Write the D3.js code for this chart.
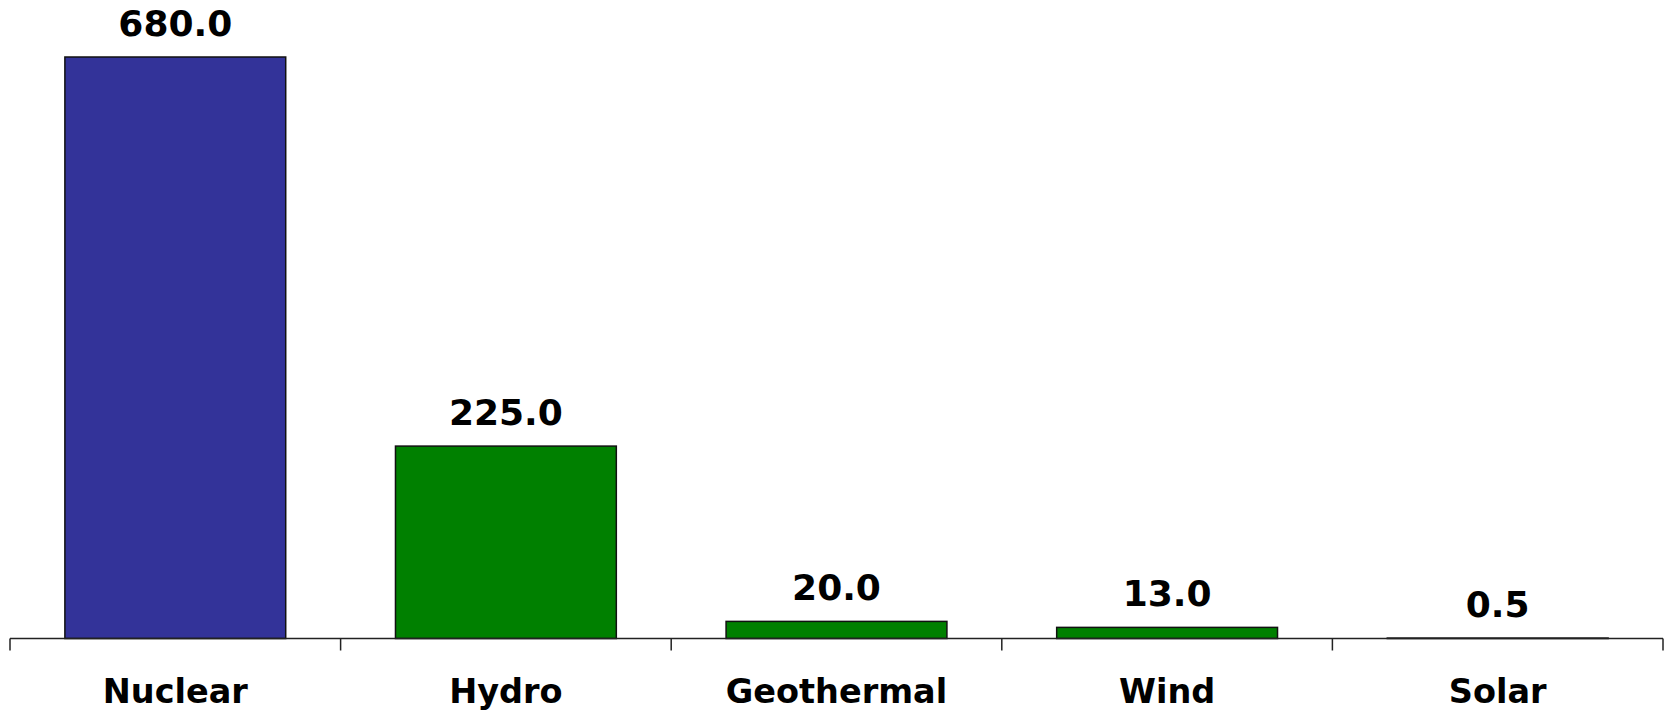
<!DOCTYPE html>
<html>
<head>
<meta charset="utf-8">
<script src="https://cdn.jsdelivr.net/npm/d3@7/dist/d3.min.js"></script>
<style>
  html, body { margin: 0; padding: 0; background: #ffffff; }
  svg { display: block; }
</style>
</head>
<body>
<svg id="chart" width="1664" height="711"></svg>
<script>
// Electricity sources and their values
const categories = ["Nuclear", "Hydro", "Geothermal", "Wind", "Solar"];
const values = [680.0, 225.0, 20.0, 13.0, 0.5];
const barColors = ["#333399", "#008000", "#008000", "#008000", "#008000"];

const width = 1664, height = 711;
const axisY = 638.5;
const svg = d3.select("#chart");

const x = d3.scaleBand()
  .domain(categories)
  .range([10, 1663])
  .paddingInner(0.332)
  .paddingOuter(0.166);

const y = d3.scaleLinear()
  .domain([0, 680])
  .range([axisY, 57]);

const font = "'DejaVu Sans', Verdana, sans-serif";

// Bars
svg.append("g")
  .selectAll("rect")
  .data(values)
  .join("rect")
  .attr("x", (d, i) => x(categories[i]))
  .attr("y", d => y(d))
  .attr("width", x.bandwidth())
  .attr("height", d => Math.max(0, axisY - y(d)))
  .attr("fill", (d, i) => barColors[i])
  .attr("stroke", "#111")
  .attr("stroke-width", 1.5);

// Value labels
svg.append("g")
  .selectAll("text")
  .data(values)
  .join("text")
  .attr("x", (d, i) => x(categories[i]) + x.bandwidth() / 2)
  .attr("y", d => y(d) - 21)
  .attr("text-anchor", "middle")
  .attr("font-family", font)
  .attr("font-weight", "bold")
  .attr("font-size", 36)
  .attr("fill", "#000")
  .text(d => d.toFixed(1));

// Category axis: boundary ticks between bands, no domain ends beyond
const step = x.step();
const bounds = categories.map(c => x(c) - (step - x.bandwidth()) / 2);
bounds.push(bounds[bounds.length - 1] + step);

const axis = svg.append("g");
axis.append("line")
  .attr("x1", bounds[0]).attr("x2", bounds[bounds.length - 1])
  .attr("y1", axisY).attr("y2", axisY)
  .attr("stroke", "#222").attr("stroke-width", 1.5);
axis.selectAll("line.tick")
  .data(bounds)
  .join("line")
  .attr("class", "tick")
  .attr("x1", d => d).attr("x2", d => d)
  .attr("y1", axisY).attr("y2", axisY + 12)
  .attr("stroke", "#222").attr("stroke-width", 1.5);

axis.selectAll("text")
  .data(categories)
  .join("text")
  .attr("x", d => x(d) + x.bandwidth() / 2)
  .attr("y", 703)
  .attr("text-anchor", "middle")
  .attr("font-family", font)
  .attr("font-weight", "bold")
  .attr("font-size", 33.5)
  .attr("fill", "#000")
  .text(d => d);
</script>
</body>
</html>
